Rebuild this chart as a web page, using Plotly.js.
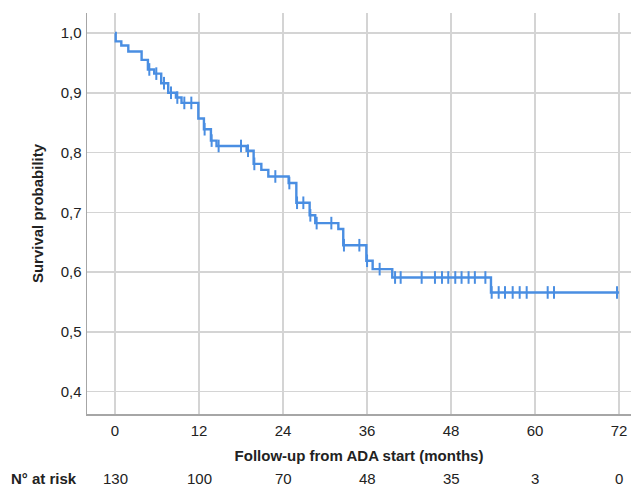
<!DOCTYPE html>
<html>
<head>
<meta charset="utf-8">
<script src="https://cdn.plot.ly/plotly-3.0.1.min.js"></script>
<style>html,body{margin:0;padding:0;background:#fff;}#chart{width:634px;height:487px;}</style>
</head>
<body>
<div id="chart"></div>
<script>
// Kaplan-Meier step curve: time (months) at which survival changes, and survival after the change
const stepTimes = [0, 0.1, 0.9, 1.9, 3.8, 4.7, 5.6, 6.6, 7.6, 8.7, 9.5, 11.9, 12.7, 13.7, 14.5, 18.8, 19.8, 20.9, 21.9, 24.8, 25.9, 27.8, 28.6, 31.9, 32.6, 35.9, 36.8, 39.6, 53.7, 72];
const stepSurv  = [1.000, 0.986, 0.979, 0.969, 0.955, 0.939, 0.932, 0.916, 0.900, 0.892, 0.883, 0.857, 0.839, 0.820, 0.811, 0.803, 0.781, 0.771, 0.760, 0.749, 0.716, 0.695, 0.682, 0.672, 0.645, 0.619, 0.605, 0.591, 0.566, 0.566];

// Censored observations
const censorTimes = [4.9, 5.9, 7.0, 8.0, 8.9, 9.9, 10.9, 12.8, 13.8, 14.8, 18.0, 19.0, 19.9, 22.9, 24.9, 26.0, 26.9, 27.9, 28.8, 30.9, 32.7, 34.9, 36.0, 37.8, 40.0, 40.8, 43.8, 45.7, 46.7, 47.6, 48.6, 49.5, 50.5, 51.4, 52.9, 53.8, 54.8, 55.7, 56.8, 57.8, 58.8, 61.8, 62.7, 71.7];
const censorSurv  = [0.939, 0.932, 0.916, 0.900, 0.892, 0.883, 0.883, 0.839, 0.820, 0.811, 0.811, 0.803, 0.781, 0.760, 0.749, 0.716, 0.716, 0.695, 0.682, 0.682, 0.645, 0.645, 0.619, 0.605, 0.591, 0.591, 0.591, 0.591, 0.591, 0.591, 0.591, 0.591, 0.591, 0.591, 0.591, 0.566, 0.566, 0.566, 0.566, 0.566, 0.566, 0.566, 0.566, 0.566];

// Axis ticks
const xTickVals = [0, 12, 24, 36, 48, 60, 72];
const xTickText = ['0', '12', '24', '36', '48', '60', '72'];
const yTickVals = [0.4, 0.5, 0.6, 0.7, 0.8, 0.9, 1.0];
const yTickText = ['0,4', '0,5', '0,6', '0,7', '0,8', '0,9', '1,0'];

// Number at risk
const riskTimes  = [0, 12, 24, 36, 48, 60, 72];
const riskCounts = [130, 100, 70, 48, 35, 3, 0];

const blue = '#4a8ee2';
const font = 'Liberation Sans, Arial, sans-serif';
const fs = 15;

const traces = [
  {
    x: stepTimes, y: stepSurv, type: 'scatter', mode: 'lines',
    line: {shape: 'hv', color: blue, width: 2.4},
    hoverinfo: 'skip', showlegend: false
  },
  {
    x: censorTimes, y: censorSurv, type: 'scatter', mode: 'markers',
    marker: {symbol: 'line-ns-open', size: 9, color: blue, line: {color: blue, width: 2}},
    hoverinfo: 'skip', showlegend: false
  }
];

const annotations = riskTimes.map((t, i) => ({
  x: t, xref: 'x', y: -0.16, yref: 'paper', yanchor: 'middle', xanchor: 'center',
  text: String(riskCounts[i]), showarrow: false,
  font: {family: font, size: fs, color: '#222'}
}));
annotations.push({
  x: -0.143, xref: 'paper', y: -0.16, yref: 'paper', yanchor: 'middle', xanchor: 'left',
  text: '<b>N° at risk</b>', showarrow: false,
  font: {family: font, size: fs, color: '#222'}
});

const layout = {
  width: 634, height: 487,
  margin: {l: 87, r: 3, t: 13, b: 73},
  paper_bgcolor: '#fff', plot_bgcolor: '#fff',
  font: {family: font, size: fs, color: '#222'},
  xaxis: {
    range: [-4, 73.7], tickvals: xTickVals, ticktext: xTickText,
    showgrid: true, gridcolor: '#d4d4d4', gridwidth: 1.5,
    showline: true, linecolor: '#a6a6a6', linewidth: 1.5,
    zeroline: false, ticks: '', ticklabelstandoff: 2,
    tickfont: {family: font, size: fs, color: '#222'},
    title: {text: '<b>Follow-up from ADA start (months)</b>', standoff: 13, font: {family: font, size: fs, color: '#222'}}
  },
  yaxis: {
    range: [0.3627, 1.0334], tickvals: yTickVals, ticktext: yTickText,
    showgrid: true, gridcolor: '#d4d4d4', gridwidth: 1.5,
    showline: true, linecolor: '#a6a6a6', linewidth: 1.5,
    zeroline: false, ticks: '', ticklabelstandoff: 1,
    tickfont: {family: font, size: fs, color: '#222'},
    title: {text: '<b>Survival probability</b>', standoff: 13, font: {family: font, size: fs, color: '#222'}}
  },
  annotations: annotations
};

Plotly.newPlot('chart', traces, layout, {displayModeBar: false, staticPlot: true});
</script>
</body>
</html>
